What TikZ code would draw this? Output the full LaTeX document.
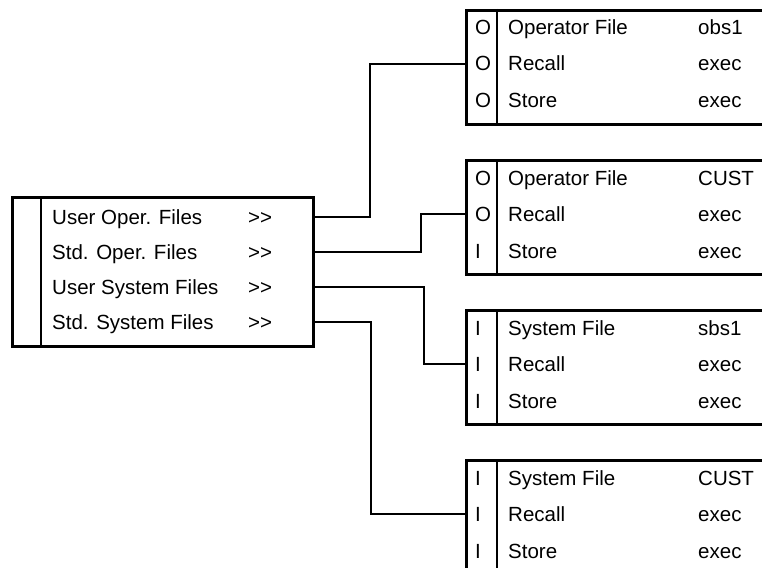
\documentclass[tikz,border=0pt]{standalone}
\usepackage{fontspec}
\setmainfont{Liberation Sans}
\usetikzlibrary{positioning,calc}

\begin{document}
\begin{tikzpicture}[x=1pt, y=-1pt,
    frame/.style={draw, line width=3pt, inner sep=0pt, anchor=north west},
    rule/.style={line width=2.8pt},
    link/.style={line width=2.8pt},
    entry/.style={anchor=west, inner sep=0pt, text height=14pt, text depth=0pt,
                  font=\fontsize{20.5}{24}\selectfont}]
        \useasboundingbox (0,0) rectangle (762,567);
        \clip (0,0) rectangle (762,567);

        \def\menux{11}
        \def\menuy{196}
        \def\boxx{465}

        % main menu
        \node[frame, minimum width=301, minimum height=149] (menu) at (\menux,\menuy) {};
        \draw[rule] ([xshift=30pt]menu.north west) -- ([xshift=30pt]menu.south west);
        \foreach \txt/\nm [count=\i] in {User Oper. Files/uof, Std. Oper. Files/sof,
                                         User System Files/usf, Std. System Files/ssf} {
            \node[entry] (\nm) at (52, \menuy - 14 + \i*35) {\txt};
            \node[entry] (\nm-more) at (248, \menuy - 14 + \i*35) {>{}>};
        }

        % file boxes, open to the right
        \foreach \nm/\top/\head/\val/\a/\b/\c in {ops/9/Operator File/obs1/O/O/O,
                                                  cops/159/Operator File/CUST/O/O/I,
                                                  sys/309/System File/sbs1/I/I/I,
                                                  csys/459/System File/CUST/I/I/I} {
            \node[frame, minimum width=330, minimum height=114] (\nm) at (\boxx,\top) {};
            \draw[rule] ([xshift=32pt]\nm.north west) -- ([xshift=32pt]\nm.south west);
            \node[entry] (\nm-a) at (475, \top + 19) {\a};
            \node[entry] (\nm-b) at (475, \top + 55) {\b};
            \node[entry] (\nm-c) at (475, \top + 92) {\c};
            \node[entry] (\nm-head) at (508, \top + 19) {\head};
            \node[entry] (\nm-rcl) at (508, \top + 55) {Recall};
            \node[entry] (\nm-sto) at (508, \top + 92) {Store};
            \node[entry] (\nm-val) at (698, \top + 19) {\val};
            \node[entry] (\nm-rclx) at (698, \top + 55) {exec};
            \node[entry] (\nm-stox) at (698, \top + 92) {exec};
        }

        % connectors
        \draw[link] (menu.east |- uof.west) -- ++(55,0) |- (ops.west |- ops-rcl.west);
        \draw[link] (menu.east |- sof.west) -- ++(106,0) |- (cops.west |- cops-rcl.west);
        \draw[link] (menu.east |- usf.west) -- ++(109,0) |- (sys.west |- sys-rcl.west);
        \draw[link] (menu.east |- ssf.west) -- ++(56,0) |- (csys.west |- csys-rcl.west);
    \end{tikzpicture}
\end{document}
